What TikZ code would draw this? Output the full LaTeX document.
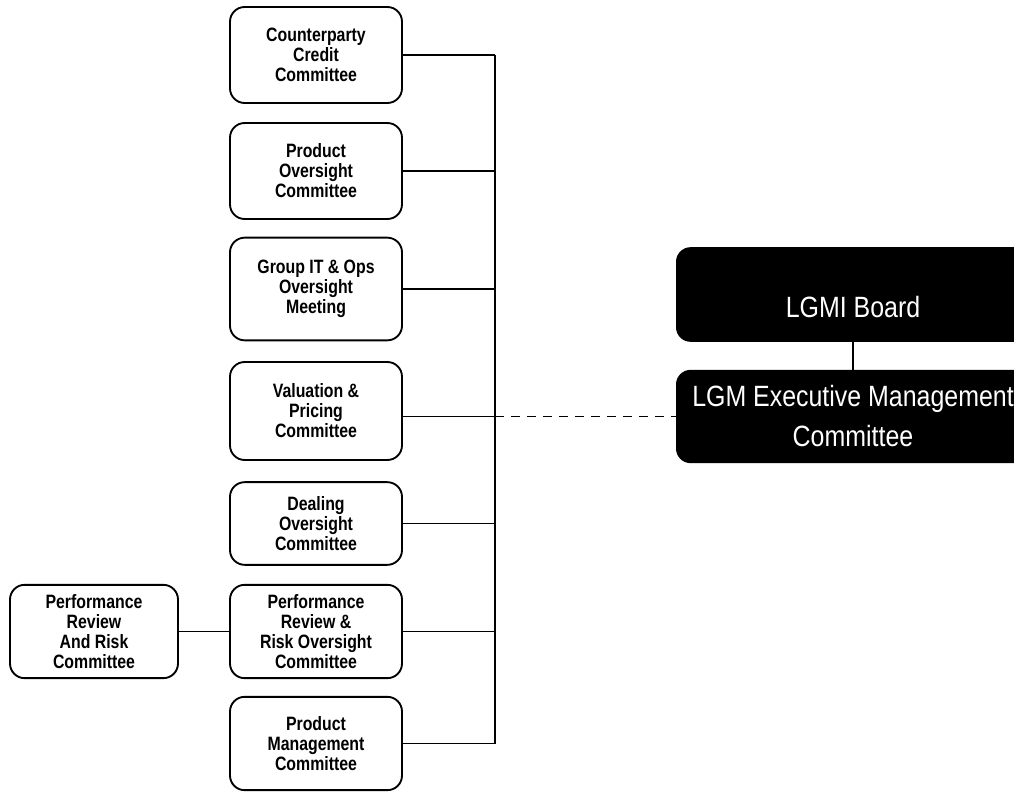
\documentclass[tikz,border=0pt]{standalone}
\usepackage{fontspec}
\newfontfamily\boxfont{Liberation Sans}[FakeStretch=0.82]
\newfontfamily\topfont{Liberation Sans}[FakeStretch=0.85]
\usetikzlibrary{calc}

\begin{document}
\begin{tikzpicture}[x=0.75pt,y=-0.75pt,
 cbox/.style={draw, line width=1.4pt, rounded corners=11pt, fill=white, minimum width=129pt, inner sep=0pt, align=center, font=\boxfont\bfseries\fontsize{14.5}{15}\selectfont},
 bbox/.style={fill=black, rounded corners=11pt, minimum width=265.5pt, inner sep=0pt, align=center, text=white, font=\topfont\fontsize{22}{30}\selectfont},
 link/.style={line width=1.1pt}]
\useasboundingbox (0,0) rectangle (1014,792);
\clip (0,0) rectangle (1014,792);
% committees
\node[cbox, minimum height=72pt] (ccc) at (316,55) {Counterparty\\Credit\\Committee};
\node[cbox, minimum height=72pt] (poc) at (316,171) {Product\\Oversight\\Committee};
\node[cbox, minimum height=77pt] (gio) at (316,289) {Group IT \& Ops\\Oversight\\Meeting};
\node[cbox, minimum height=73.5pt] (vpc) at (316,411) {Valuation \&\\Pricing\\Committee};
\node[cbox, minimum height=62pt] (doc) at (316,523.5) {Dealing\\Oversight\\Committee};
\node[cbox, minimum height=70pt] (prr) at (316,631.5) {Performance\\Review \&\\Risk Oversight\\Committee};
\node[cbox, minimum height=70pt] (pmc) at (316,743.5) {Product\\Management\\Committee};
\node[cbox, minimum height=70pt, minimum width=126pt] (prc) at (94,631.5) {Performance\\Review\\And Risk\\Committee};
% board
\node[bbox, minimum height=71pt, text height=35pt] (board) at (853,294.5) {LGMI Board};
\node[bbox, minimum height=70pt] (emc) at (853,416.5) {LGM Executive Management\\Committee};
\coordinate (bus) at (495,0);
\foreach \n in {ccc,poc,gio,doc,prr,pmc}
 \draw[link] (\n.east) -- (\n.east -| bus);
\draw[link] (vpc.east |- emc.west) -- (emc.west -| bus);
\draw[link] (ccc.east -| bus) -- (pmc.east -| bus);
\draw[link] (prc) -- (prr);
\draw[link] (board) -- (emc);
\draw[link, dash pattern=on 7pt off 5pt] (emc.west -| bus) -- (emc.west);
\end{tikzpicture}
\end{document}
